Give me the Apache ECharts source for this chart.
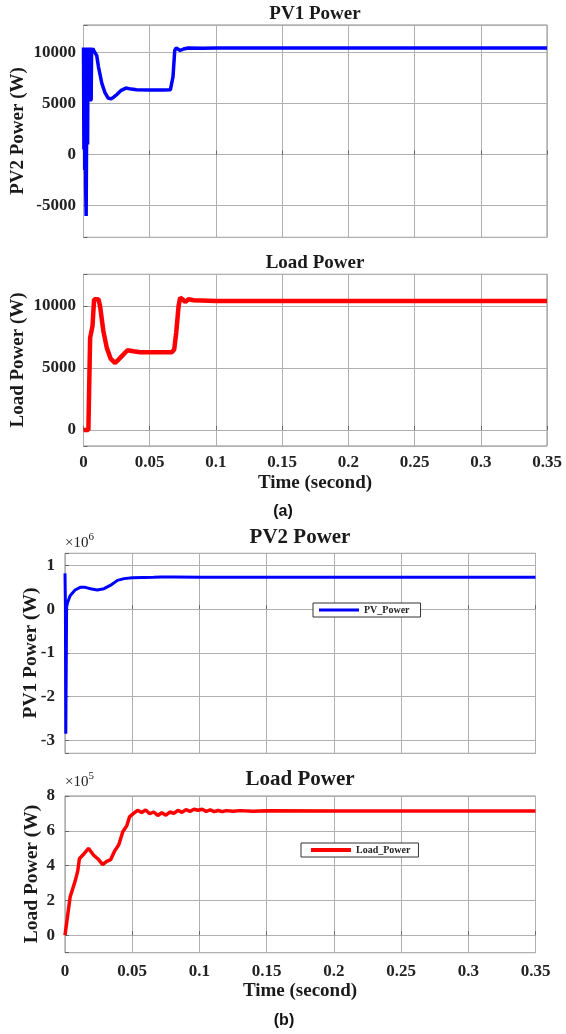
<!DOCTYPE html>
<html><head><meta charset="utf-8">
<script src="https://cdn.jsdelivr.net/npm/echarts@6/dist/echarts.min.js"></script>
<style>html,body{margin:0;padding:0;background:#fff}#c{width:566px;height:1034px}</style>
</head><body><div id="c"></div>
<script>
// ---------- data ----------
// time axis (seconds)
const xTickVals = [0, 0.05, 0.1, 0.15, 0.2, 0.25, 0.3, 0.35];
const xTickLabels = ['0', '0.05', '0.1', '0.15', '0.2', '0.25', '0.3', '0.35'];

// (a) top: PV1 Power plot (y label PV2 Power (W))
const tPV1 = [0, 0.0003, 0.0006, 0.0009, 0.0012, 0.0016, 0.0020, 0.0024, 0.0027, 0.0031, 0.0034, 0.0037, 0.0040, 0.0044, 0.0047, 0.0051, 0.0055, 0.0058, 0.0061, 0.0066, 0.0071, 0.0077, 0.0084, 0.0092, 0.0100, 0.0113, 0.0138, 0.0163, 0.0185, 0.0208, 0.0230, 0.0250, 0.0285, 0.0320, 0.0360, 0.0400, 0.0500, 0.0600, 0.0656, 0.0676, 0.0689, 0.0700, 0.0715, 0.0730, 0.0755, 0.0790, 0.0900, 0.1000, 0.1500, 0.2000, 0.2500, 0.3000, 0.3500];
const pPV1 = [10500, 500, 10400, -1500, 10500, -3000, -6000, -6000, 10400, 1000, 10500, 5300, 10500, 5300, 10400, 5200, 10500, 5300, 10400, 10100, 10400, 10200, 10350, 10100, 9700, 8600, 7000, 6040, 5550, 5460, 5650, 5870, 6300, 6520, 6420, 6350, 6330, 6330, 6350, 7640, 10220, 10450, 10350, 10200, 10350, 10450, 10430, 10450, 10450, 10440, 10450, 10440, 10450];
const yTicksA1 = [-5000, 0, 5000, 10000];

// (a) bottom: Load Power
const tLoadA = [0, 0.0037, 0.0042, 0.0050, 0.0068, 0.0080, 0.0113, 0.0125, 0.0150, 0.0176, 0.0206, 0.0239, 0.0277, 0.0332, 0.0377, 0.0428, 0.0550, 0.0667, 0.0685, 0.0700, 0.0718, 0.0730, 0.0748, 0.0768, 0.0793, 0.0831, 0.1000, 0.1500, 0.2000, 0.2500, 0.3000, 0.3500];
const pLoadA = [0, 0, 2970, 7430, 8380, 10540, 10540, 10000, 7970, 6620, 5730, 5400, 5810, 6430, 6350, 6270, 6270, 6270, 6490, 7840, 10000, 10680, 10540, 10320, 10540, 10460, 10400, 10400, 10400, 10400, 10400, 10400];
const yTicksA2 = [0, 5000, 10000];

// (b) top: PV2 Power (values in x10^6 W)
const tPV2 = [0, 0.0003, 0.0006, 0.0012, 0.0018, 0.0038, 0.0075, 0.0113, 0.0150, 0.0190, 0.0240, 0.0290, 0.0340, 0.0390, 0.0440, 0.0500, 0.0660, 0.0720, 0.0810, 0.1010, 0.1500, 0.2000, 0.2500, 0.3000, 0.3500];
const pPV2 = [0.82, 0.10, -2.85, 0.05, 0.14, 0.31, 0.44, 0.50, 0.50, 0.47, 0.44, 0.47, 0.55, 0.66, 0.70, 0.72, 0.73, 0.74, 0.74, 0.73, 0.73, 0.73, 0.73, 0.73, 0.73];
const yTicksB1 = [-3, -2, -1, 0, 1];

// (b) bottom: Load Power (values in x10^5 W)
const tLoadB = [0, 0.0038, 0.0075, 0.0095, 0.0107, 0.0138, 0.0175, 0.0213, 0.0250, 0.0280, 0.0310, 0.0340, 0.0370, 0.0400, 0.0430, 0.0460, 0.0480, 0.0510, 0.0540, 0.0570, 0.0600, 0.0630, 0.0660, 0.0690, 0.0720, 0.0750, 0.0780, 0.0810, 0.0840, 0.0870, 0.0900, 0.0930, 0.0960, 0.0990, 0.1020, 0.1050, 0.1080, 0.1110, 0.1140, 0.1170, 0.1200, 0.1250, 0.1300, 0.1400, 0.1500, 0.2000, 0.2500, 0.3000, 0.3500];
const pLoadB = [0, 2.2, 3.1, 3.7, 4.4, 4.65, 5.0, 4.6, 4.35, 4.06, 4.25, 4.35, 4.85, 5.2, 5.95, 6.3, 6.8, 7.0, 7.18, 7.05, 7.2, 6.98, 7.08, 6.88, 7.04, 6.9, 7.08, 7.0, 7.18, 7.06, 7.22, 7.12, 7.24, 7.18, 7.24, 7.12, 7.2, 7.1, 7.17, 7.1, 7.16, 7.12, 7.16, 7.13, 7.15, 7.14, 7.14, 7.14, 7.14];
const yTicksB2 = [0, 2, 4, 6, 8];

// ---------- chart ----------
const SERIF = 'Liberation Serif';
const zip = (t, v) => t.map((x, i) => [x, v[i]]);
const inList = (v, list, eps) => list.findIndex(a => Math.abs(a - v) < eps);

const grids = [
  {left: 83.5, top: 25, width: 463.5, height: 212.3},
  {left: 83.5, top: 274.3, width: 463.5, height: 171.7},
  {left: 65, top: 553.3, width: 470.5, height: 200},
  {left: 65, top: 796, width: 470.5, height: 156.7}
].map(g => Object.assign(g, {show: true, borderColor: '#8a8a8a', borderWidth: 1, backgroundColor: '#fff'}));

function xAx(i, showLabels, margin) {
  return {
    type: 'value', gridIndex: i, min: 0, max: 0.35, interval: 0.05,
    axisLine: {show: false},
    axisTick: {show: true, inside: true, length: 4, lineStyle: {color: '#666'}},
    splitLine: {show: true, lineStyle: {color: '#b0b0b0', width: 1}},
    axisLabel: {
      show: showLabels, margin: margin || 8,
      fontFamily: SERIF, fontWeight: 'bold', fontSize: 17, color: '#222',
      formatter: v => { const k = inList(v, xTickVals, 1e-6); return k >= 0 ? xTickLabels[k] : ''; }
    }
  };
}
function yAx(i, min, max, ticks, split, margin) {
  return {
    type: 'value', gridIndex: i, min: min, max: max, splitNumber: split,
    axisLine: {show: false},
    axisTick: {show: true, inside: true, length: 4, lineStyle: {color: '#666'}},
    splitLine: {show: true, lineStyle: {color: '#b0b0b0', width: 1}},
    axisLabel: {
      margin: margin, showMinLabel: true, showMaxLabel: true,
      fontFamily: SERIF, fontWeight: 'bold', fontSize: 17, color: '#222',
      formatter: v => { const k = inList(v, ticks, 1e-6 * Math.max(1, Math.abs(ticks[ticks.length - 1]))); return k >= 0 ? String(ticks[k]) : ''; }
    }
  };
}

function txt(x, y, s, size, opts) {
  return Object.assign({
    type: 'text', x: x, y: y, silent: true,
    style: {text: s, fontFamily: SERIF, fontWeight: 'bold', fontSize: size, fill: '#1a1a1a', align: 'center', verticalAlign: 'middle'}
  }, opts || {});
}
function vtxt(x, y, s, size) {
  return {
    type: 'text', x: x, y: y, rotation: Math.PI / 2, silent: true,
    style: {text: s, fontFamily: SERIF, fontWeight: 'bold', fontSize: size, fill: '#1a1a1a', align: 'center', verticalAlign: 'middle'}
  };
}
function expTxt(x, y, e) {
  return {
    type: 'text', x: x, y: y, silent: true,
    style: {
      text: '{m|×10}{e|' + e + '}', align: 'left', verticalAlign: 'bottom',
      rich: {
        m: {fontFamily: SERIF, fontSize: 15, fill: '#222', verticalAlign: 'bottom'},
        e: {fontFamily: SERIF, fontSize: 11, fill: '#222', verticalAlign: 'top', padding: [0, 0, 8, 0]}
      }
    }
  };
}

const legendText = {fontFamily: SERIF, fontWeight: 'bold', fontSize: 10, color: '#222'};

const option = {
  animation: false,
  backgroundColor: '#fff',
  grid: grids,
  xAxis: [xAx(0, false), xAx(1, true, 8), xAx(2, false), xAx(3, true, 10)],
  yAxis: [
    yAx(0, -8100, 12700, yTicksA1, 4, 7.5),
    yAx(1, -1300, 12560, yTicksA2, 3, 7.5),
    yAx(2, -3.3, 1.28, yTicksB1, 5, 10),
    yAx(3, -1, 8, yTicksB2, 4, 10)
  ],
  legend: [
    {data: ['PV_Power'], left: 313, top: 603, orient: 'horizontal', icon: 'rect', itemWidth: 40, itemHeight: 3, itemGap: 4,
     padding: [2, 11, 2, 6], borderColor: '#333', borderWidth: 1, backgroundColor: '#fff', textStyle: legendText, selectedMode: false},
    {data: ['Load_Power'], left: 301, top: 843, orient: 'horizontal', icon: 'rect', itemWidth: 40, itemHeight: 4, itemGap: 4,
     padding: [2, 8, 2, 10], borderColor: '#333', borderWidth: 1, backgroundColor: '#fff', textStyle: legendText, selectedMode: false}
  ],
  series: [
    {name: 'PV1 Power', type: 'line', xAxisIndex: 0, yAxisIndex: 0, data: zip(tPV1, pPV1), showSymbol: false, symbol: 'none',
     lineStyle: {color: '#0000ff', width: 3.5}, itemStyle: {color: '#0000ff'}},
    {name: 'Load Power (a)', type: 'line', xAxisIndex: 1, yAxisIndex: 1, data: zip(tLoadA, pLoadA), showSymbol: false, symbol: 'none',
     lineStyle: {color: '#ff0000', width: 4.5}, itemStyle: {color: '#ff0000'}},
    {name: 'PV_Power', type: 'line', xAxisIndex: 2, yAxisIndex: 2, data: zip(tPV2, pPV2), showSymbol: false, symbol: 'none',
     lineStyle: {color: '#0000ff', width: 3}, itemStyle: {color: '#0000ff'}},
    {name: 'Load_Power', type: 'line', xAxisIndex: 3, yAxisIndex: 3, data: zip(tLoadB, pLoadB), showSymbol: false, symbol: 'none',
     lineStyle: {color: '#ff0000', width: 3.5}, itemStyle: {color: '#ff0000'}}
  ],
  graphic: [
    txt(315, 14, 'PV1 Power', 19),
    txt(315, 263, 'Load Power', 19),
    vtxt(18, 131, 'PV2 Power (W)', 19),
    vtxt(18, 360, 'Load Power (W)', 19),
    txt(315, 483.5, 'Time (second)', 19),
    {type: 'text', x: 283, y: 512, silent: true, style: {text: '(a)', fontFamily: 'Liberation Sans', fontWeight: 'bold', fontSize: 16, fill: '#111', align: 'center', verticalAlign: 'middle'}},
    txt(300, 538, 'PV2 Power', 21),
    txt(300, 780, 'Load Power', 21),
    vtxt(31, 653, 'PV1 Power (W)', 19.5),
    vtxt(32, 874, 'Load Power (W)', 19.5),
    txt(300, 991, 'Time (second)', 19),
    {type: 'text', x: 284, y: 1021, silent: true, style: {text: '(b)', fontFamily: 'Liberation Sans', fontWeight: 'bold', fontSize: 16, fill: '#111', align: 'center', verticalAlign: 'middle'}},
    expTxt(65, 551, '6'),
    expTxt(65, 790, '5')
  ]
};

const chart = echarts.init(document.getElementById('c'), null, {renderer: 'canvas'});
chart.setOption(option);
</script>
</body></html>
